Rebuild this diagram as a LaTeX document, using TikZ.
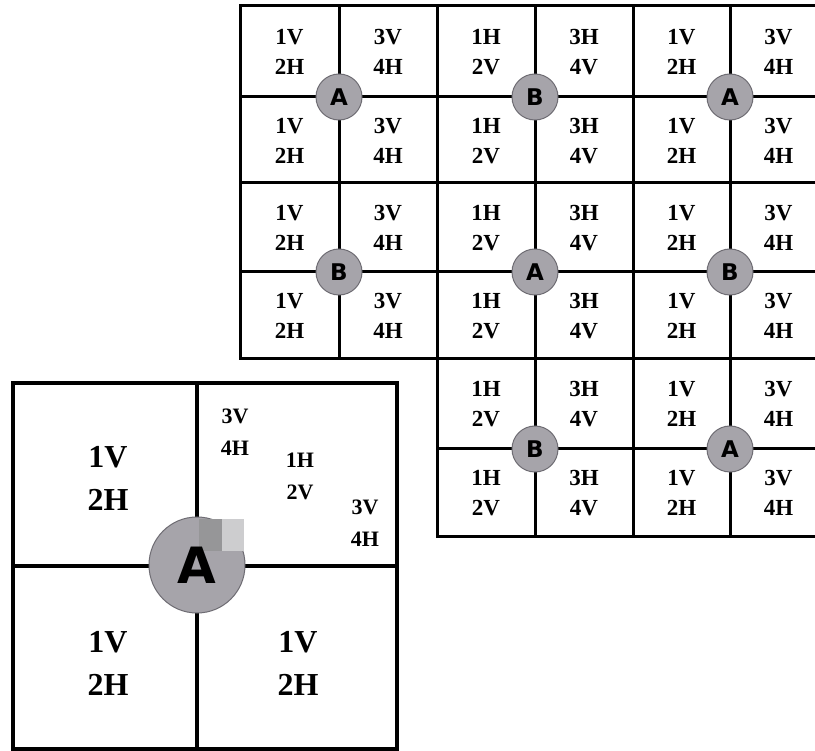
\documentclass[tikz,border=0pt]{standalone}
\usepackage{fontspec}
\setmainfont{Liberation Serif}
\newfontfamily\lsans{DejaVu Sans}
\definecolor{disc}{RGB}{166,164,170}
\definecolor{discedge}{RGB}{110,108,115}
\definecolor{patchL}{RGB}{150,150,152}
\definecolor{patchR}{RGB}{205,205,207}
\begin{document}
\begin{tikzpicture}[x=1pt,y=-1pt,
  grid/.style={line width=3pt,line cap=rect},
  bigline/.style={line width=3.6pt,line cap=rect},
  cell/.style={align=center,inner sep=0pt,font=\bfseries\fontsize{23}{30}\selectfont},
  bigcell/.style={align=center,inner sep=0pt,font=\bfseries\fontsize{32}{43}\selectfont},
  smallcell/.style={align=center,inner sep=0pt,font=\bfseries\fontsize{22}{32}\selectfont},
  disk/.style={circle,fill=disc,draw=discedge,line width=1pt,minimum size=46pt,inner sep=0pt,font=\lsans\bfseries\fontsize{23}{23}\selectfont},
  bigdisk/.style={circle,fill=disc,draw=discedge,line width=1pt,minimum size=96pt,inner sep=0pt}]
\useasboundingbox (0,0) rectangle (815,751);
\clip (0,0) rectangle (815,751);
\fill[white] (0,0) rectangle (815,751);
% upper grid (rows 1-4)
\draw[grid] (240,6) rectangle (840,359);
\foreach \y in {97,183,272} \draw[grid] (240,\y) -- (840,\y);
\foreach \x in {339,437,535,633,730} \draw[grid] (\x,6) -- (\x,359);
% lower grid (rows 5-6)
\draw[grid] (437,359) rectangle (840,537);
\draw[grid] (437,449) -- (840,449);
\foreach \x in {535,633,730} \draw[grid] (\x,359) -- (\x,537);
% cell texts
\foreach \r/\y in {1/52,2/141,3/228,4/316}{
  \node[cell] (c\r a) at (289.5,\y) {1V\\2H};
  \node[cell] (c\r b) at (388,\y) {3V\\4H};
  \node[cell] (c\r c) at (486,\y) {1H\\2V};
  \node[cell] (c\r d) at (584,\y) {3H\\4V};
  \node[cell] (c\r e) at (681.5,\y) {1V\\2H};
  \node[cell] (c\r f) at (778.5,\y) {3V\\4H};
}
\foreach \r/\y in {5/404,6/493}{
  \node[cell] (c\r c) at (486,\y) {1H\\2V};
  \node[cell] (c\r d) at (584,\y) {3H\\4V};
  \node[cell] (c\r e) at (681.5,\y) {1V\\2H};
  \node[cell] (c\r f) at (778.5,\y) {3V\\4H};
}
% discs
\node[disk] (d1) at (339,97) {A};
\node[disk] (d2) at (535,97) {B};
\node[disk] (d3) at (730,97) {A};
\node[disk] (d4) at (339,272) {B};
\node[disk] (d5) at (535,272) {A};
\node[disk] (d6) at (730,272) {B};
\node[disk] (d7) at (535,449) {B};
\node[disk] (d8) at (730,449) {A};
% big square
\draw[bigline] (13,383) rectangle (397,749);
\draw[bigline] (197,383) -- (197,749);
\draw[bigline] (13,566) -- (397,566);
\node[bigcell] (q1) at (108,478) {1V\\2H};
\node[bigcell] (q3) at (108,663) {1V\\2H};
\node[bigcell] (q4) at (298,663) {1V\\2H};
\node[smallcell] (s1) at (235,432) {3V\\4H};
\node[smallcell] (s2) at (300,476) {1H\\2V};
\node[smallcell] (s3) at (365,523) {3V\\4H};
\node[bigdisk] (bd) at (197,565) {};
\fill[patchL] (199,519) rectangle (222,551);
\fill[patchR] (222,519) rectangle (244,551);
\node[font=\lsans\bfseries\fontsize{50}{50}\selectfont,inner sep=0pt] (bA) at (bd.center) {A};
\end{tikzpicture}
\end{document}
